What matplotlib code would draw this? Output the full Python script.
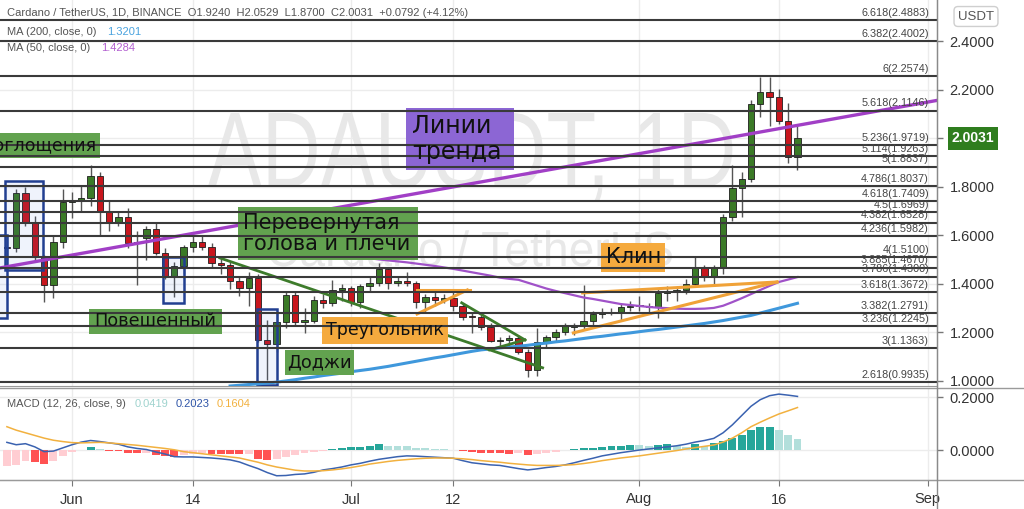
import numpy as np
import pandas as pd
import matplotlib
matplotlib.use("Agg")
import matplotlib.pyplot as plt
from matplotlib.patches import Rectangle, PathPatch
from matplotlib.textpath import TextPath
from matplotlib.font_manager import FontProperties
from matplotlib.lines import Line2D
import matplotlib.transforms as mtransforms

plt.rcParams['font.family'] = ['Liberation Sans', 'DejaVu Sans']

# ---------------- data ----------------
dates = pd.date_range("2021-05-25", "2021-08-18", freq="D")

opens = [1.550, 1.548, 1.775, 1.652, 1.511, 1.396, 1.573,
         1.738, 1.740, 1.755, 1.845, 1.701, 1.652, 1.676, 1.569, 1.590, 1.627,
         1.528, 1.433, 1.474, 1.553, 1.573, 1.553, 1.487, 1.478, 1.412, 1.384,
         1.425, 1.169, 1.153, 1.243, 1.355, 1.245, 1.247, 1.334, 1.322, 1.375,
         1.384, 1.326, 1.392, 1.404, 1.462, 1.404, 1.412, 1.404, 1.326, 1.346,
         1.334, 1.342, 1.309, 1.264, 1.264, 1.223, 1.165, 1.169, 1.177, 1.120,
         1.045, 1.161, 1.181, 1.202, 1.223, 1.227, 1.247, 1.276, 1.280, 1.285,
         1.305, 1.311, 1.309, 1.305, 1.363, 1.371, 1.375, 1.400, 1.466, 1.429,
         1.466, 1.676, 1.796, 1.833, 2.142, 2.192, 2.171, 2.072, 1.924]
highs = [1.60, 1.79, 1.80, 1.68, 1.52, 1.60, 1.79,
         1.78, 1.808, 1.891, 1.86, 1.74, 1.70, 1.713, 1.62, 1.64, 1.65,
         1.55, 1.49, 1.56, 1.60, 1.60, 1.57, 1.51, 1.49, 1.43, 1.45,
         1.44, 1.25, 1.28, 1.37, 1.37, 1.30, 1.35, 1.36, 1.416, 1.40,
         1.39, 1.40, 1.43, 1.487, 1.47, 1.43, 1.45, 1.41, 1.36, 1.37,
         1.36, 1.37, 1.32, 1.28, 1.27, 1.24, 1.18, 1.19, 1.19, 1.13,
         1.219, 1.19, 1.215, 1.24, 1.24, 1.396, 1.29, 1.30, 1.30, 1.32,
         1.33, 1.35, 1.32, 1.38, 1.39, 1.39, 1.42, 1.51, 1.48, 1.48,
         1.69, 1.891, 1.86, 2.16, 2.254, 2.254, 2.204, 2.146, 2.0529]
lows = [1.50, 1.53, 1.64, 1.50, 1.326, 1.342, 1.55,
        1.67, 1.70, 1.72, 1.60, 1.62, 1.64, 1.55, 1.396, 1.50, 1.52,
        1.42, 1.346, 1.44, 1.53, 1.54, 1.47, 1.44, 1.38, 1.35, 1.31,
        1.16, 1.004, 1.12, 1.22, 1.23, 1.198, 1.24, 1.30, 1.31, 1.33,
        1.31, 1.30, 1.37, 1.39, 1.38, 1.39, 1.39, 1.30, 1.28, 1.31,
        1.32, 1.29, 1.25, 1.198, 1.21, 1.16, 1.14, 1.14, 1.11, 1.016,
        1.02, 1.14, 1.16, 1.19, 1.19, 1.215, 1.23, 1.26, 1.27, 1.25,
        1.29, 1.29, 1.28, 1.26, 1.33, 1.33, 1.36, 1.39, 1.41, 1.39,
        1.44, 1.66, 1.676, 1.82, 2.09, 2.05, 2.06, 1.90, 1.87]
closes = [1.548, 1.775, 1.652, 1.511, 1.396, 1.573, 1.738,
          1.740, 1.755, 1.845, 1.701, 1.652, 1.676, 1.569, 1.572, 1.627, 1.528,
          1.433, 1.474, 1.553, 1.573, 1.553, 1.487, 1.480, 1.412, 1.384, 1.425,
          1.169, 1.153, 1.243, 1.355, 1.245, 1.247, 1.334, 1.322, 1.375, 1.384,
          1.326, 1.392, 1.404, 1.462, 1.404, 1.412, 1.404, 1.326, 1.346, 1.334,
          1.342, 1.309, 1.264, 1.262, 1.223, 1.165, 1.169, 1.177, 1.120, 1.045,
          1.161, 1.181, 1.202, 1.227, 1.227, 1.247, 1.276, 1.280, 1.285, 1.305,
          1.311, 1.309, 1.305, 1.363, 1.371, 1.375, 1.400, 1.470, 1.429, 1.466,
          1.676, 1.796, 1.833, 2.142, 2.192, 2.171, 2.072, 1.924, 2.0031]

ma200 = [None] * 24 + [
    0.979, 0.982, 0.985, 0.988, 0.991, 0.995, 1.000, 1.005, 1.011, 1.016,
    1.022, 1.027, 1.032, 1.038, 1.043, 1.048, 1.054, 1.060, 1.067, 1.074,
    1.081, 1.088, 1.095, 1.101, 1.108, 1.115, 1.122, 1.128, 1.132, 1.136,
    1.140, 1.143, 1.147, 1.152, 1.156, 1.161, 1.165, 1.170, 1.175, 1.180,
    1.184, 1.189, 1.194, 1.198, 1.203, 1.208, 1.212, 1.217, 1.222, 1.227,
    1.232, 1.237, 1.243, 1.249, 1.256, 1.263, 1.270, 1.280, 1.290, 1.300,
    1.310, 1.3201]
ma50 = [None] * 27 + [
    1.560, 1.556, 1.552, 1.547, 1.543, 1.538, 1.533, 1.529, 1.524, 1.519,
    1.515, 1.510, 1.506, 1.501, 1.497, 1.493, 1.489, 1.484, 1.479, 1.474,
    1.468, 1.462, 1.455, 1.448, 1.441, 1.434, 1.426, 1.421, 1.417, 1.405,
    1.393, 1.381, 1.371, 1.362, 1.353, 1.344, 1.338, 1.331, 1.324, 1.317,
    1.313, 1.309, 1.305, 1.302, 1.300, 1.298, 1.297, 1.297, 1.298, 1.301,
    1.310, 1.325, 1.341, 1.358, 1.375, 1.392, 1.408, 1.418, 1.4284]

macd = [0.029, 0.020, 0.024, 0.012, -0.006, -0.004, 0.008,
        0.020, 0.030, 0.036, 0.032, 0.027, 0.022, 0.012, 0.006, 0.002, -0.007,
        -0.015, -0.025, -0.026, -0.026, -0.028, -0.030, -0.033, -0.037, -0.045, -0.058,
        -0.070, -0.085, -0.097, -0.096, -0.092, -0.090, -0.084, -0.075, -0.070, -0.064,
        -0.056, -0.050, -0.042, -0.035, -0.030, -0.025, -0.022, -0.023, -0.025, -0.027,
        -0.029, -0.031, -0.040, -0.048, -0.052, -0.056, -0.058, -0.064, -0.070, -0.075,
        -0.071, -0.066, -0.062, -0.056, -0.048, -0.039, -0.031, -0.022, -0.016, -0.010,
        -0.005, 0.000, 0.004, 0.008, 0.012, 0.016, 0.022, 0.030, 0.036, 0.044,
        0.065, 0.095, 0.130, 0.165, 0.190, 0.205, 0.211, 0.207, 0.2023]
signal = [0.088, 0.075, 0.065, 0.055, 0.045, 0.037, 0.032,
          0.028, 0.027, 0.028, 0.029, 0.027, 0.024, 0.021, 0.018, 0.014, 0.010,
          0.006, 0.001, -0.006, -0.010, -0.014, -0.018, -0.022, -0.026, -0.030, -0.038,
          -0.046, -0.056, -0.064, -0.070, -0.076, -0.079, -0.079, -0.078, -0.075, -0.071,
          -0.066, -0.060, -0.053, -0.048, -0.043, -0.039, -0.036, -0.033, -0.031, -0.030,
          -0.030, -0.031, -0.033, -0.036, -0.040, -0.043, -0.046, -0.050, -0.053, -0.056,
          -0.058, -0.058, -0.058, -0.057, -0.055, -0.051, -0.046, -0.040, -0.035, -0.030,
          -0.026, -0.022, -0.017, -0.012, -0.007, -0.002, 0.004, 0.009, 0.014, 0.019,
          0.030, 0.045, 0.065, 0.088, 0.105, 0.121, 0.136, 0.148, 0.1604]
hist = [-0.062, -0.055, -0.042, -0.045, -0.052, -0.040, -0.022,
        -0.006, 0.002, 0.012, 0.004, -0.002, -0.004, -0.012, -0.012, -0.010, -0.018,
        -0.024, -0.026, -0.020, -0.014, -0.012, -0.014, -0.014, -0.014, -0.016, -0.015,
        -0.032, -0.038, -0.033, -0.026, -0.018, -0.012, -0.007, -0.003, 0.003, 0.008,
        0.010, 0.012, 0.015, 0.024, 0.016, 0.015, 0.014, 0.009, 0.006, 0.004,
        0.003, 0.001, -0.004, -0.007, -0.010, -0.012, -0.012, -0.014, -0.012, -0.020,
        -0.014, -0.010, -0.006, 0.002, 0.004, 0.006, 0.008, 0.012, 0.014, 0.016,
        0.020, 0.018, 0.015, 0.020, 0.022, 0.015, 0.012, 0.022, 0.015, 0.025,
        0.035, 0.045, 0.055, 0.077, 0.088, 0.0885, 0.077, 0.055, 0.0419]

fib_ratios = ["6.618", "6.382", "6", "5.618", "5.236", "5.114", "5", "4.786",
              "4.618", "4.5", "4.382", "4.236", "4", "3.885", "3.786", "3.618",
              "3.382", "3.236", "3", "2.618"]
fib_prices = [2.4883, 2.4002, 2.2574, 2.1146, 1.9719, 1.9263, 1.8837, 1.8037,
              1.7409, 1.6969, 1.6528, 1.5982, 1.5100, 1.4670, 1.4300, 1.3672,
              1.2791, 1.2245, 1.1363, 0.9935]

price_ticks = [1.0, 1.2, 1.4, 1.6, 1.8, 2.0, 2.2, 2.4]
macd_ticks = [0.0, 0.2]
tick_dates = ["2021-06-01", "2021-06-14", "2021-07-01", "2021-07-12",
              "2021-08-01", "2021-08-16", "2021-09-01"]
tick_labels = ["Jun", "14", "Jul", "12", "Aug", "16", "Sep"]

# drawings: (days from Jun 1, price)
trend_line = [(-7.0, 1.471), (78.0, 2.054)]
green_lines = [[(15.9, 1.507), (50.6, 1.054)],
               [(41.9, 1.322), (48.7, 1.169)],
               [(44.9, 1.128), (48.7, 1.169)]]
orange_lines = [[(37.1, 1.375), (42.8, 1.375)],
                [(37.1, 1.276), (42.5, 1.375)],
                [(54.9, 1.363), (75.8, 1.408)],
                [(53.9, 1.198), (75.8, 1.408)]]
blue_rects = [(-9.5, -7.0, 1.260, 1.602), (-7.2, -3.1, 1.458, 1.825),
              (9.8, 12.0, 1.322, 1.511), (19.9, 22.0, 0.985, 1.297)]
GREEN_BOX, PURPLE_BOX, ORANGE_BOX = "#62a24f", "#8c66d4", "#f5aa3e"
label_boxes = [
    ("поглощения", (-12.0, 3.0, 1.920, 2.023), GREEN_BOX, 12.5, 2.6, "right", 1.0),
    ("Перевернутая\nголова и плечи", (17.8, 37.2, 1.499, 1.718), GREEN_BOX, 15, 18.4, "left", 1.05),
    ("Повешенный", (1.8, 16.1, 1.194, 1.297), GREEN_BOX, 12.8, 8.95, "center", 1.0),
    ("Доджи", (22.9, 30.3, 1.025, 1.128), GREEN_BOX, 12.8, 26.6, "center", 1.0),
    ("Линии\nтренда", (35.9, 47.5, 1.870, 2.126), PURPLE_BOX, 17, 36.6, "left", 1.12),
    ("Треугольник", (26.9, 40.4, 1.153, 1.264), ORANGE_BOX, 12.5, 33.65, "center", 1.0),
    ("Клин", (56.9, 63.8, 1.449, 1.569), ORANGE_BOX, 15, 60.35, "center", 1.0),
]

# ---------------- figure ----------------
W, H = 1024, 509
fig = plt.figure(figsize=(W / 100, H / 100), dpi=100)
fig.patch.set_facecolor("white")


def fx(x):
    return x / W


def fy(y):
    return 1 - y / H


ax = fig.add_axes([0, fy(386), fx(937), 386 / H])
axm = fig.add_axes([0, fy(480), fx(937), (480 - 388) / H])

t0 = pd.Timestamp("2021-06-01")
xs = np.asarray((dates - t0).days, dtype=float)
tick_x = [(pd.Timestamp(t) - t0).days for t in tick_dates]
o, h, l, c = map(np.asarray, (opens, highs, lows, closes))

# watermark
def watermark(text, d0, d1, p_base, p_cap):
    fp = FontProperties(family="Liberation Sans")
    tp = TextPath((0, 0), text, size=1, prop=fp)
    ext = tp.get_extents()
    cap = TextPath((0, 0), "T", size=1, prop=fp).get_extents().y1
    tr = (mtransforms.Affine2D().translate(-ext.x0, 0)
          .scale((d1 - d0) / ext.width, (p_cap - p_base) / cap)
          .translate(d0, p_base) + ax.transData)
    ax.add_patch(PathPatch(tp, transform=tr, fc="#e8e8e8", ec="none", zorder=1))

watermark("ADAUSDT, 1D", 14.6, 71.0, 1.800, 2.105)
watermark("Cardano / TetherUS", 21.1, 64.5, 1.474, 1.614)

# candles
up = c >= o
ax.vlines(xs, l, h, color="#555555", lw=1.0, zorder=3)
ax.bar(xs, np.maximum(np.abs(c - o), 0.005), bottom=np.minimum(o, c), width=0.68,
       color=np.where(up, "#3b7a27", "#c8161d"), edgecolor="#1e1e1e", lw=0.6, zorder=4)

# moving averages
ax.plot(xs, np.array(ma200, dtype=float), color="#3f98dc", lw=2.2, zorder=5)
ax.plot(xs, np.array(ma50, dtype=float), color="#a052c8", lw=1.6, zorder=5)

# drawings
ax.axline(trend_line[0], trend_line[1], color="#a13fc6", lw=2.4, zorder=5)
for seg in green_lines:
    ax.plot([seg[0][0], seg[1][0]], [seg[0][1], seg[1][1]], color="#3d7b2b", lw=2.0, zorder=5.5)
for seg in orange_lines:
    ax.plot([seg[0][0], seg[1][0]], [seg[0][1], seg[1][1]], color="#f0a238", lw=2.2, zorder=5.5)
for d0, d1, p0, p1 in blue_rects:
    ax.add_patch(Rectangle((d0, p0), d1 - d0, p1 - p0, fc=(0.2, 0.4, 0.85, 0.08),
                           ec="#213f91", lw=1.8, zorder=4.5))
for text, (d0, d1, p0, p1), fc, fs, tx, ha, ls in label_boxes:
    ax.add_patch(Rectangle((d0, p0), d1 - d0, p1 - p0, fc=fc, ec="none", zorder=6))
    ax.text(tx, (p0 + p1) / 2, text, ha=ha, va="center", fontsize=fs, color="#111111",
            family="DejaVu Sans", linespacing=ls, zorder=8, clip_on=True)

# fibonacci extension levels
for r, p in zip(fib_ratios, fib_prices):
    ax.axhline(p, color="#3a3a3a", lw=1.5, zorder=7)
    ax.annotate(f"{r}({p:.4f})", xy=(1, p), xycoords=("axes fraction", "data"),
                xytext=(-5.8, 1.6), textcoords="offset points", ha="right", va="bottom",
                fontsize=7.8, color="#444444", zorder=8, annotation_clip=False)

# MACD
hcol = []
for i, v in enumerate(hist):
    prev = hist[i - 1] if i > 0 else v
    if v >= 0:
        hcol.append("#26a69a" if v >= prev else "#b2dfdb")
    else:
        hcol.append("#ff5252" if (v <= prev and i > 0) else "#ffcdd2")
axm.bar(xs, hist, width=0.85, color=hcol, zorder=3)
axm.plot(xs, macd, color="#3a62b0", lw=1.1, zorder=4)
axm.plot(xs, signal, color="#f2b13f", lw=1.1, zorder=4)

# axes styling
for a in (ax, axm):
    a.set_xlim(-7.74, 93.0)
    a.set_xticks(tick_x)
    a.grid(True, color="#ececec", lw=1, zorder=0)
    a.set_axisbelow(True)
    a.yaxis.tick_right()
    for s in ("top", "left"):
        a.spines[s].set_visible(False)
    a.spines["right"].set_color("#8a8a8a")
    a.spines["bottom"].set_color("#9a9a9a")
ax.set_ylim(0.979, 2.571)
axm.set_ylim(-0.113, 0.234)
ax.set_yticks(price_ticks)
ax.set_yticklabels(["" if abs(v - 2.0) < 1e-9 else f"{v:.4f}" for v in price_ticks])
axm.set_yticks(macd_ticks)
axm.set_yticklabels([f"{v:.4f}" for v in macd_ticks])
for a in (ax, axm):
    a.tick_params(axis="y", length=4, width=1, color="#777777", pad=5,
                  labelsize=10.5, labelcolor="#333333")
ax.tick_params(axis="x", bottom=False, labelbottom=False)
axm.set_xticklabels(tick_labels)
axm.tick_params(axis="x", length=4, color="#777777", pad=5, labelsize=10.5, labelcolor="#333333")

# figure-level separators
fig.add_artist(Line2D([0, 1], [fy(388), fy(388)], color="#9a9a9a", lw=1))
fig.add_artist(Line2D([0, 1], [fy(480), fy(480)], color="#9a9a9a", lw=1))
fig.add_artist(Line2D([fx(937), fx(937)], [0, 1], color="#8a8a8a", lw=1))

# headers
hdr = dict(fontsize=8.0, color="#555555", va="center", ha="left")
fig.text(fx(7), fy(13), "Cardano / TetherUS, 1D, BINANCE  O1.9240  H2.0529  L1.8700  C2.0031  +0.0792 (+4.12%)", **hdr)
fig.text(fx(7), fy(32), "MA (200, close, 0)", **hdr)
fig.text(fx(107), fy(32), "1.3201", **{**hdr, "color": "#4aa3df"})
fig.text(fx(7), fy(48), "MA (50, close, 0)", **hdr)
fig.text(fx(101), fy(48), "1.4284", **{**hdr, "color": "#b25fd0"})
fig.text(fx(7), fy(404), "MACD (12, 26, close, 9)", **hdr)
fig.text(fx(135), fy(404), "0.0419", **{**hdr, "color": "#9fd3ce"})
fig.text(fx(176), fy(404), "0.2023", **{**hdr, "color": "#2f55a8"})
fig.text(fx(217), fy(404), "0.1604", **{**hdr, "color": "#f2b13f"})

# price badge and currency box
fig.text(fx(973), fy(138.5), "2.0031", ha="center", va="center", color="white",
         fontsize=10, fontweight="bold",
         bbox=dict(boxstyle="square,pad=0.3", fc="#2f7d1e", ec="none"))
fig.text(fx(976), fy(16.5), "USDT", ha="center", va="center", color="#555555", fontsize=9.5,
         bbox=dict(boxstyle="round,pad=0.3", fc="white", ec="#cfcfcf"))

fig.savefig("out.png", dpi=100, facecolor="white")
